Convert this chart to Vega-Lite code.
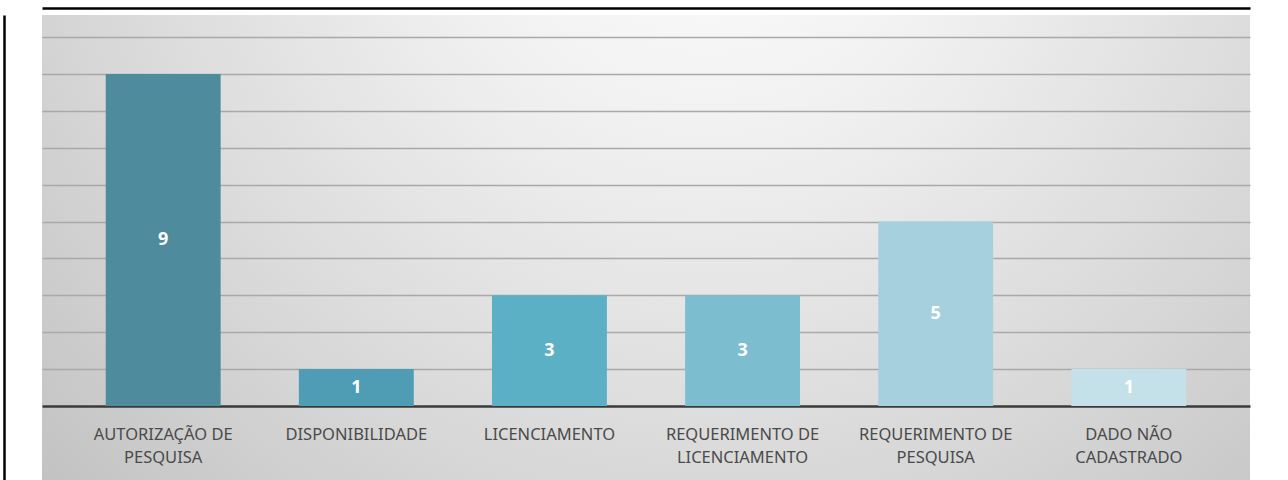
{
  "$schema": "https://vega.github.io/schema/vega-lite/v6.json",
  "width": 1208,
  "height": 465,
  "autosize": {"type": "none"},
  "padding": {"left": 42, "top": 15, "right": 38, "bottom": 0},
  "background": "#ffffff",
  "config": {
    "view": {
      "stroke": null,
      "fill": {
        "gradient": "radial",
        "x1": 0.55, "y1": 0.18, "r1": 0,
        "x2": 0.55, "y2": 0.18, "r2": 0.78,
        "stops": [
          {"offset": 0, "color": "#ffffff"},
          {"offset": 0.3, "color": "#f0f0f0"},
          {"offset": 0.65, "color": "#d9d9d9"},
          {"offset": 1, "color": "#c0c0c0"}
        ]
      }
    }
  },
  "data": {
    "values": [
      {"cat": "AUTORIZAÇÃO DE PESQUISA", "n": 9},
      {"cat": "DISPONIBILIDADE", "n": 1},
      {"cat": "LICENCIAMENTO", "n": 3},
      {"cat": "REQUERIMENTO DE LICENCIAMENTO", "n": 3},
      {"cat": "REQUERIMENTO DE PESQUISA", "n": 5},
      {"cat": "DADO NÃO CADASTRADO", "n": 1}
    ]
  },
  "resolve": {"axis": {"x": "independent"}},
  "layer": [
    {
      "mark": {"type": "bar"},
      "encoding": {
        "x": {
          "field": "cat", "type": "nominal", "sort": null,
          "scale": {"paddingInner": 0.405, "paddingOuter": 0.33},
          "axis": {
            "orient": "bottom", "offset": -74, "title": null,
            "labelAngle": 0, "ticks": false,
            "domainColor": "#3a3a3a", "domainWidth": 2.5,
            "labelFont": "Noto Sans", "labelFontSize": 16.5, "labelColor": "#4a4a4a",
            "labelPadding": 20, "labelLineHeight": 23, "labelBaseline": "top",
            "labelExpr": "split(replace(datum.label, regexp(' (PESQUISA|LICENCIAMENTO|CADASTRADO)$'), '|$1'), '|')"
          }
        },
        "y": {
          "field": "n", "type": "quantitative",
          "scale": {"domain": [-2.005, 10.596], "nice": false, "zero": false},
          "axis": {
            "orient": "left", "offset": 38, "title": null,
            "values": [1, 2, 3, 4, 5, 6, 7, 8, 9, 10],
            "labels": false, "ticks": false,
            "domainColor": "#000000", "domainWidth": 2.5,
            "grid": true, "gridColor": "#a9a9a9", "gridWidth": 1.3
          }
        },
        "color": {
          "field": "cat", "type": "nominal", "sort": null, "legend": null,
          "scale": {
            "domain": ["AUTORIZAÇÃO DE PESQUISA", "DISPONIBILIDADE", "LICENCIAMENTO", "REQUERIMENTO DE LICENCIAMENTO", "REQUERIMENTO DE PESQUISA", "DADO NÃO CADASTRADO"],
            "range": ["#4e8b9c", "#4f9db5", "#5bb0c6", "#7dbdd0", "#a7d0df", "#c4e0e8"]
          }
        }
      }
    },
    {
      "transform": [{"calculate": "datum.n / 2", "as": "mid"}],
      "mark": {"type": "text", "color": "#ffffff", "font": "Noto Sans", "fontSize": 18, "fontWeight": "bold", "baseline": "middle", "align": "center"},
      "encoding": {
        "x": {
          "field": "cat", "type": "nominal", "sort": null,
          "axis": {"orient": "top", "offset": 7, "title": null, "labels": false, "ticks": false, "domainColor": "#000000", "domainWidth": 2.5}
        },
        "y": {"field": "mid", "type": "quantitative"},
        "text": {"field": "n", "type": "quantitative"}
      }
    }
  ]
}
